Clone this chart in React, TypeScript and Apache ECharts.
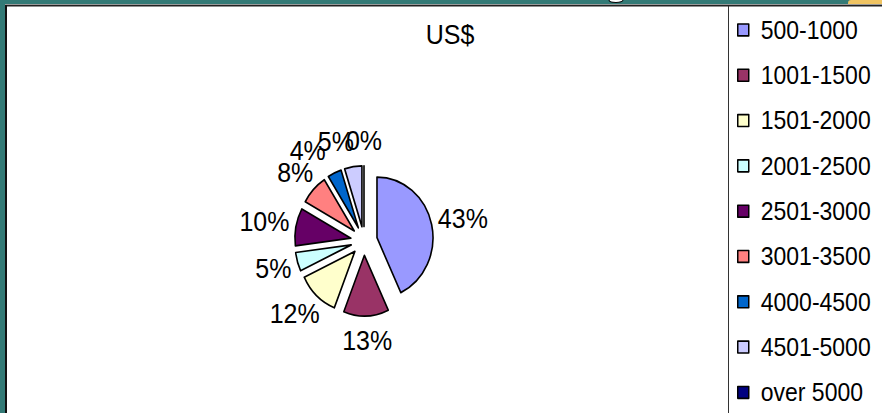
import React, { useEffect, useRef } from "react";
import * as echarts from "echarts";

const categories = [
  "500-1000",
  "1001-1500",
  "1501-2000",
  "2001-2500",
  "2501-3000",
  "3001-3500",
  "4000-4500",
  "4501-5000",
  "over 5000",
];
const shares = [43, 13, 12, 5, 10, 8, 4, 5, 0];
const colors = [
  "#9999ff",
  "#993366",
  "#ffffcc",
  "#ccffff",
  "#660066",
  "#ff8080",
  "#0066cc",
  "#ccccff",
  "#000080",
];
const titleText = "US$";

// The reference picture is slightly stretched vertically; the chart is drawn
// at a reduced height and stretched back with a CSS scale.
const STRETCH = 1.084;
const W = 882;
const H = 413 / STRETCH;

const FONT = "'Liberation Sans', Arial, sans-serif";
const LABEL_SIZE = 25;
const CX = 364;
const CY = 222.2;
const R = 56;
const OFFSET = 13.3;
const GAP = 7;
const LABEL_HALF_H = 16;
const MAX_LABEL_OVERLAP = 8;
const TEAL = "#337a76";

function measure(text: string, size: number): number {
  const c = document.createElement("canvas").getContext("2d");
  if (!c) return text.length * size * 0.55;
  c.font = `${size}px 'Liberation Sans', Arial, sans-serif`;
  return c.measureText(text).width;
}

export default function App() {
  const ref = useRef<HTMLDivElement>(null);

  useEffect(() => {
    if (!ref.current) return;
    const chart = echarts.init(ref.current, undefined, { renderer: "svg" });

    const total = shares.reduce((a, b) => a + b, 0);
    const items: { text: string; x: number; y: number; w: number; left: boolean }[] = [];
    let acc = 0;
    shares.forEach((v) => {
      const t = ((acc + v / 2) / total) * Math.PI * 2;
      acc += v;
      const dx = Math.sin(t);
      const dy = -Math.cos(t);
      const text = `${Math.round((v / total) * 100)}%`;
      const w = measure(text, LABEL_SIZE);
      const d = R + OFFSET + GAP;
      items.push({
        text,
        x: CX + d * dx + (w / 2) * dx,
        y: CY + d * dy + LABEL_HALF_H * dy,
        w,
        left: dx <= 1e-9,
      });
    });
    // push crowded left-side labels outward so they overlap only slightly
    for (let i = items.length - 2; i >= 0; i--) {
      const a = items[i];
      const b = items[i + 1];
      if (!a.left || !b.left) continue;
      if (Math.abs(a.y - b.y) > LABEL_SIZE / 2) continue;
      const maxRight = b.x - b.w / 2 + MAX_LABEL_OVERLAP;
      if (a.x + a.w / 2 > maxRight) a.x = maxRight - a.w / 2;
    }
    const labels = items.map((it) => ({
      type: "text",
      x: it.x,
      y: it.y,
      z: 50,
      style: {
        text: it.text,
        fill: "#000",
        fontFamily: FONT,
        fontSize: LABEL_SIZE,
        align: "center",
        verticalAlign: "middle",
      },
    }));

    const ys = (y: number) => y / STRETCH;

    chart.setOption({
      animation: false,
      backgroundColor: "#ffffff",
      title: {
        text: titleText,
        left: 450,
        top: ys(35),
        padding: 0,
        textAlign: "center",
        textVerticalAlign: "middle",
        textStyle: {
          fontFamily: FONT,
          fontSize: 25,
          fontWeight: "normal",
          color: "#000",
        },
      },
      legend: {
        orient: "vertical",
        left: 737,
        top: 15.6,
        padding: 0,
        itemWidth: 11,
        itemHeight: 11,
        itemGap: 17.8,
        icon: "rect",
        selectedMode: false,
        itemStyle: { borderColor: "#000", borderWidth: 1.5 },
        textStyle: {
          fontFamily: FONT,
          fontSize: 23,
          lineHeight: 24,
          color: "#000",
          padding: [0, 0, 0, 7],
        },
        data: categories,
      },
      series: [
        {
          type: "pie",
          center: [CX, CY],
          radius: [0, R],
          startAngle: 90,
          clockwise: true,
          selectedMode: "multiple",
          selectedOffset: OFFSET,
          avoidLabelOverlap: false,
          emphasis: { disabled: true },
          itemStyle: { borderColor: "#000", borderWidth: 1.6 },
          label: { show: false },
          labelLine: { show: false },
          data: categories.map((name, i) => ({
            name,
            value: shares[i],
            selected: true,
            itemStyle: { color: colors[i] },
          })),
        },
      ],
      graphic: [
        ...labels,
        { type: "rect", shape: { x: 0, y: 0, width: W, height: ys(4) }, style: { fill: TEAL }, z: 100 },
        { type: "rect", shape: { x: 848, y: 0, width: 34, height: ys(4), r: [3, 0, 0, 0] }, style: { fill: "#f0c462" }, z: 101 },
        { type: "ellipse", shape: { cx: 616, cy: 0, rx: 7, ry: 2.3 }, style: { fill: "#ffffff", stroke: "#000", lineWidth: 1 }, z: 101 },
        { type: "line", shape: { x1: 0, y1: ys(4.5), x2: W, y2: ys(4.5) }, style: { stroke: "#9a9a9a", lineWidth: 1 }, z: 100 },
        { type: "line", shape: { x1: 0, y1: ys(5.8), x2: W, y2: ys(5.8) }, style: { stroke: "#222", lineWidth: 1.3 }, z: 100 },
        { type: "rect", shape: { x: 0, y: 0, width: 5, height: H }, style: { fill: TEAL }, z: 100 },
        { type: "line", shape: { x1: 6, y1: ys(5), x2: 6, y2: H }, style: { stroke: "#111", lineWidth: 2 }, z: 100 },
        { type: "line", shape: { x1: 728.5, y1: ys(6), x2: 728.5, y2: H }, style: { stroke: "#333", lineWidth: 1 }, z: 100 },
      ],
    });

    return () => chart.dispose();
  }, []);

  return (
    <div
      style={{
        position: "fixed",
        left: 0,
        top: 0,
        width: W,
        height: 413,
        overflow: "hidden",
        background: "#fff",
      }}
    >
      <div
        ref={ref}
        style={{
          width: W,
          height: H,
          transform: `scaleY(${STRETCH})`,
          transformOrigin: "0 0",
        }}
      />
    </div>
  );
}
